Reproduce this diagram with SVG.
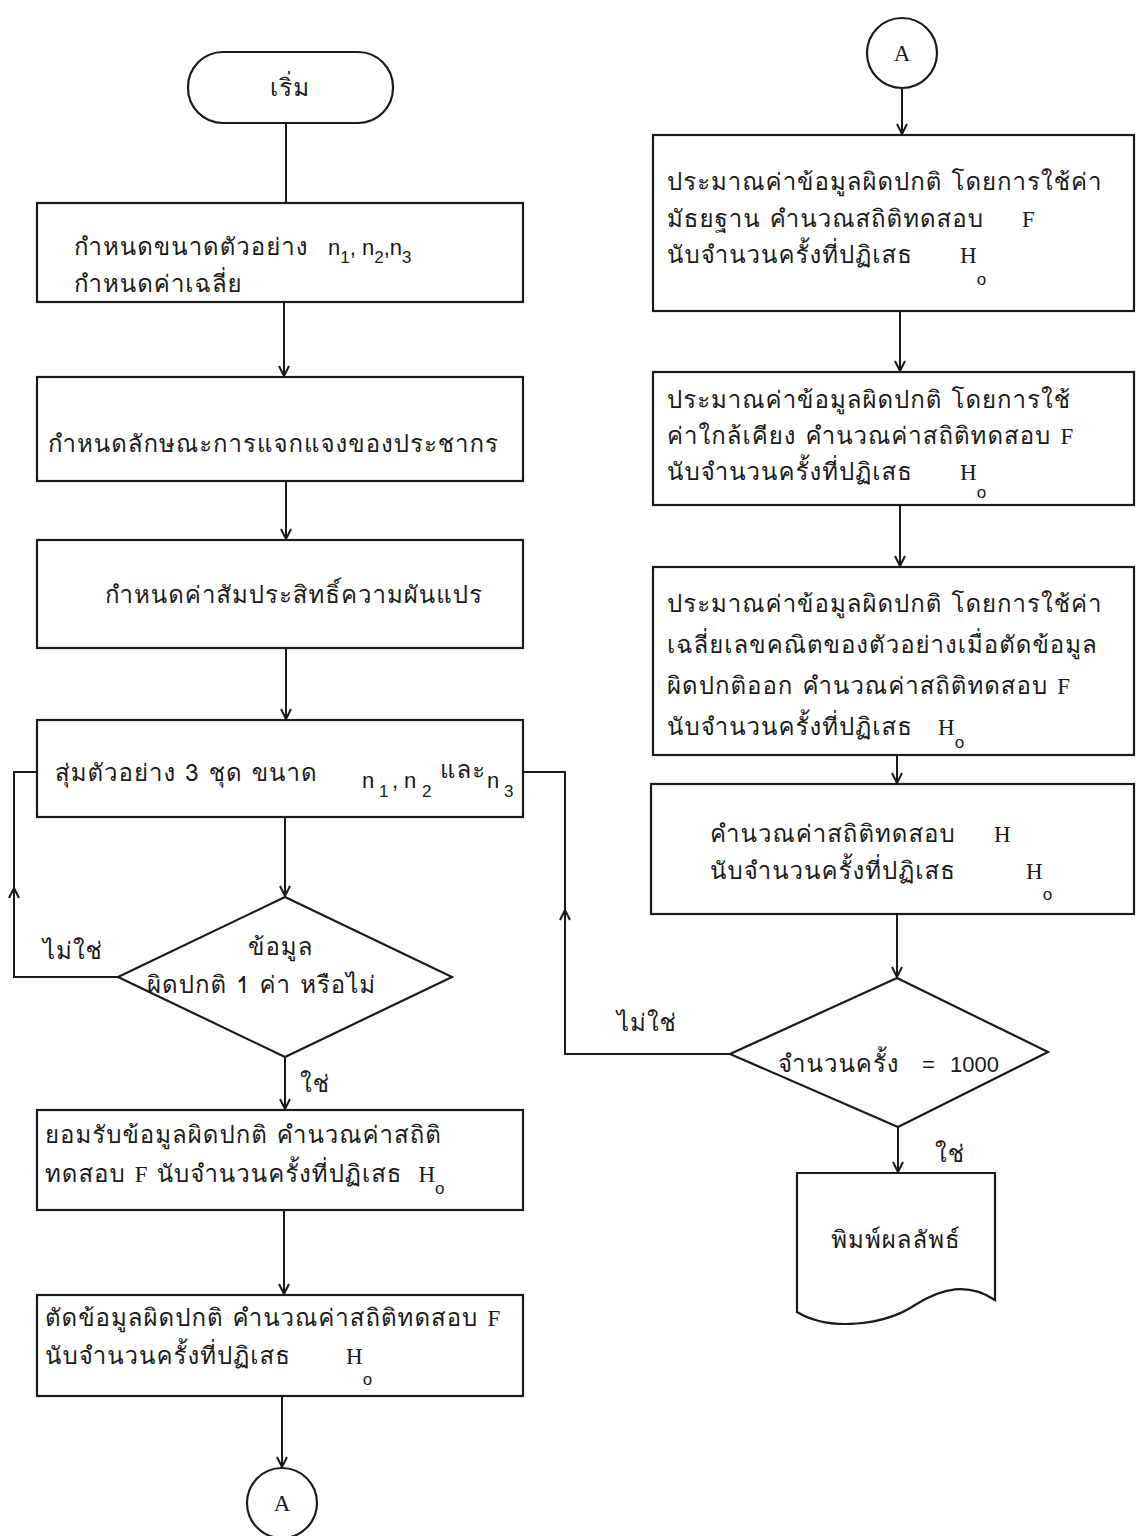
<svg xmlns="http://www.w3.org/2000/svg" width="1138" height="1536" viewBox="0 0 1138 1536">
<style>
.shape{fill:none;stroke:#1a1a1a;stroke-width:2.2}
.ln{fill:none;stroke:#1a1a1a;stroke-width:2}
.t{font-family:"Tlwg Typo","Tlwg Typist","Norasi","Loma","Garuda","Noto Sans Thai","DejaVu Sans",sans-serif;font-size:24px;fill:#1a1a1a;letter-spacing:1px}
.s{font-family:"Liberation Sans",sans-serif;font-size:22px;fill:#1a1a1a;letter-spacing:0}
.r{font-family:"Liberation Serif",serif;font-size:23px;fill:#1a1a1a;letter-spacing:0}
.sub{font-family:"Liberation Sans",sans-serif;font-size:17px;fill:#1a1a1a;letter-spacing:0}
</style>
<defs>
<marker id="ah" viewBox="-12 -8 14 16" markerWidth="14" markerHeight="16" refX="0" refY="0" orient="auto" markerUnits="userSpaceOnUse">
<path d="M-10,-5 L0,0 L-10,5" fill="none" stroke="#1a1a1a" stroke-width="2"/>
</marker>
</defs>
<rect width="1138" height="1536" fill="#ffffff"/>

<g id="connectors">
<line class="ln" x1="286" y1="123" x2="286" y2="203"/>
<line class="ln" x1="284" y1="302" x2="284" y2="376" marker-end="url(#ah)"/>
<line class="ln" x1="286" y1="481" x2="286" y2="539" marker-end="url(#ah)"/>
<line class="ln" x1="286" y1="648" x2="286" y2="719" marker-end="url(#ah)"/>
<line class="ln" x1="285" y1="817" x2="285" y2="896" marker-end="url(#ah)"/>
<polyline class="ln" points="118,977 14,977 14,772 37,772"/>
<line class="ln" x1="14" y1="900" x2="14" y2="888" marker-end="url(#ah)"/>
<line class="ln" x1="285" y1="1057" x2="285" y2="1109" marker-end="url(#ah)"/>
<line class="ln" x1="284" y1="1210" x2="284" y2="1294" marker-end="url(#ah)"/>
<line class="ln" x1="282" y1="1396" x2="282" y2="1467" marker-end="url(#ah)"/>
<line class="ln" x1="902" y1="88" x2="902" y2="134" marker-end="url(#ah)"/>
<line class="ln" x1="900" y1="311" x2="900" y2="371" marker-end="url(#ah)"/>
<line class="ln" x1="900" y1="505" x2="900" y2="566" marker-end="url(#ah)"/>
<line class="ln" x1="897" y1="755" x2="897" y2="783" marker-end="url(#ah)"/>
<line class="ln" x1="897" y1="914" x2="897" y2="977" marker-end="url(#ah)"/>
<polyline class="ln" points="730,1054 565,1054 565,772 523,772"/>
<line class="ln" x1="565" y1="922" x2="565" y2="910" marker-end="url(#ah)"/>
<line class="ln" x1="898" y1="1127" x2="898" y2="1172" marker-end="url(#ah)"/>
</g>

<g id="start">
<rect class="shape" x="188" y="52" width="205" height="71" rx="35"/>
<text class="t" x="290" y="96" text-anchor="middle">เริ่ม</text>
</g>

<g id="box1">
<rect class="shape" x="37" y="203" width="486" height="99"/>
<text class="t" x="74" y="255">กำหนดขนาดตัวอย่าง<tspan class="s" x="328">n</tspan><tspan class="sub" dy="8">1</tspan><tspan class="s" dy="-8">, n</tspan><tspan class="sub" dy="8">2</tspan><tspan class="s" dy="-8">,n</tspan><tspan class="sub" dy="8">3</tspan></text>
<text class="t" x="74" y="292">กำหนดค่าเฉลี่ย</text>
</g>

<g id="box2">
<rect class="shape" x="37" y="377" width="486" height="104"/>
<text class="t" x="48" y="452">กำหนดลักษณะการแจกแจงของประชากร</text>
</g>

<g id="box3">
<rect class="shape" x="37" y="540" width="486" height="108"/>
<text class="t" x="105" y="603">กำหนดค่าสัมประสิทธิ์ความผันแปร</text>
</g>

<g id="box4">
<rect class="shape" x="37" y="720" width="486" height="97"/>
<text class="t" x="55" y="781">สุ่มตัวอย่าง 3 ชุด ขนาด</text>
<text class="s" x="362" y="788">n<tspan class="sub" x="379" dy="9">1</tspan><tspan class="s" x="392" dy="-9">,</tspan><tspan class="s" x="404">n</tspan><tspan class="sub" x="422" dy="9">2</tspan></text>
<text class="t" x="440" y="778">และ</text>
<text class="s" x="487" y="788">n<tspan class="sub" x="504" dy="9">3</tspan></text>
</g>

<g id="decision1">
<polygon class="shape" points="285,897 452,977 285,1057 118,977"/>
<text class="t" x="248" y="955">ข้อมูล</text>
<text class="t" x="147" y="993">ผิดปกติ 1 ค่า หรือไม่</text>
</g>
<text class="t" x="43" y="959">ไม่ใช่</text>
<text class="t" x="300" y="1092">ใช่</text>

<g id="box5">
<rect class="shape" x="37" y="1110" width="486" height="100"/>
<text class="t" x="45" y="1143">ยอมรับข้อมูลผิดปกติ คำนวณค่าสถิติ</text>
<text class="t" x="45" y="1182">ทดสอบ <tspan class="r">F</tspan> นับจำนวนครั้งที่ปฏิเสธ<tspan class="r" dx="16">H</tspan><tspan class="sub" dy="12">o</tspan></text>
</g>

<g id="box6">
<rect class="shape" x="37" y="1295" width="486" height="101"/>
<text class="t" x="45" y="1326">ตัดข้อมูลผิดปกติ คำนวณค่าสถิติทดสอบ <tspan class="r">F</tspan></text>
<text class="t" x="45" y="1364">นับจำนวนครั้งที่ปฏิเสธ<tspan class="r" x="346">H</tspan><tspan class="sub" dy="21">o</tspan></text>
</g>

<g id="connectorA1">
<circle class="shape" cx="282" cy="1503" r="35"/>
<text class="r" x="282" y="1511" text-anchor="middle">A</text>
</g>

<g id="connectorA2">
<circle class="shape" cx="902" cy="53" r="35"/>
<text class="r" x="902" y="61" text-anchor="middle">A</text>
</g>

<g id="r1">
<rect class="shape" x="653" y="135" width="481" height="176"/>
<text class="t" x="667" y="190">ประมาณค่าข้อมูลผิดปกติ โดยการใช้ค่า</text>
<text class="t" x="667" y="227">มัธยฐาน คำนวณสถิติทดสอบ<tspan class="r" x="1022">F</tspan></text>
<text class="t" x="667" y="263">นับจำนวนครั้งที่ปฏิเสธ<tspan class="r" x="960">H</tspan><tspan class="sub" dy="22">o</tspan></text>
</g>

<g id="r2">
<rect class="shape" x="653" y="372" width="481" height="133"/>
<text class="t" x="667" y="408">ประมาณค่าข้อมูลผิดปกติ โดยการใช้</text>
<text class="t" x="667" y="444">ค่าใกล้เคียง คำนวณค่าสถิติทดสอบ <tspan class="r">F</tspan></text>
<text class="t" x="667" y="480">นับจำนวนครั้งที่ปฏิเสธ<tspan class="r" x="960">H</tspan><tspan class="sub" dy="18">o</tspan></text>
</g>

<g id="r3">
<rect class="shape" x="653" y="567" width="481" height="188"/>
<text class="t" x="667" y="612">ประมาณค่าข้อมูลผิดปกติ โดยการใช้ค่า</text>
<text class="t" x="667" y="653">เฉลี่ยเลขคณิตของตัวอย่างเมื่อตัดข้อมูล</text>
<text class="t" x="667" y="694">ผิดปกติออก คำนวณค่าสถิติทดสอบ <tspan class="r">F</tspan></text>
<text class="t" x="667" y="735">นับจำนวนครั้งที่ปฏิเสธ<tspan class="r" x="938">H</tspan><tspan class="sub" dy="13">o</tspan></text>
</g>

<g id="r4">
<rect class="shape" x="651" y="784" width="483" height="130"/>
<text class="t" x="710" y="842">คำนวณค่าสถิติทดสอบ<tspan class="r" x="994">H</tspan></text>
<text class="t" x="710" y="879">นับจำนวนครั้งที่ปฏิเสธ<tspan class="r" x="1026">H</tspan><tspan class="sub" dy="21">o</tspan></text>
</g>

<g id="decision2">
<polygon class="shape" points="897,978 1048,1052 898,1127 730,1054"/>
<text class="t" x="778" y="1072">จำนวนครั้ง<tspan class="s" x="922">=</tspan><tspan class="s" x="950" letter-spacing="4">1000</tspan></text>
</g>
<text class="t" x="617" y="1031">ไม่ใช่</text>
<text class="t" x="935" y="1162">ใช่</text>

<g id="output">
<path class="shape" d="M797,1173 L995,1173 L995,1300 C968,1282 942,1288 915,1305 C885,1325 830,1332 797,1312 Z"/>
<text class="t" x="896" y="1248" text-anchor="middle">พิมพ์ผลลัพธ์</text>
</g>
</svg>
